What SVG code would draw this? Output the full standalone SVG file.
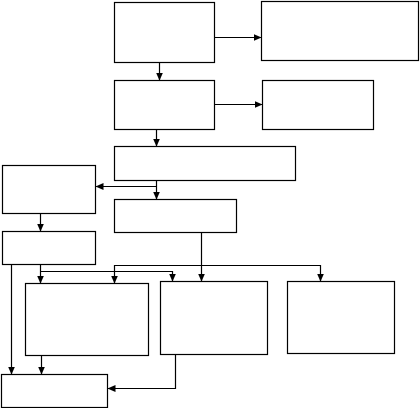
<svg xmlns="http://www.w3.org/2000/svg" width="420" height="408" viewBox="0 0 420 408">
<style>
.box{fill:#fff;stroke:#000;stroke-width:1.2}
.con{fill:none;stroke:#000;stroke-width:1.2;marker-end:url(#ah)}
</style>
<defs>
<marker id="ah" markerUnits="userSpaceOnUse" markerWidth="9" markerHeight="8" refX="8" refY="3.5" orient="auto">
<path d="M0,0 L8,3.5 L0,7 z" fill="#000"/>
</marker>
</defs>
<rect width="420" height="408" fill="#fff"/>
<g id="nA"><rect class="box" x="114.5" y="2.5" width="100" height="60"/></g>
<g id="nB"><rect class="box" x="261.5" y="1.5" width="157" height="59"/></g>
<g id="nC"><rect class="box" x="114.5" y="80.5" width="100" height="49"/></g>
<g id="nD"><rect class="box" x="262.5" y="80.5" width="111" height="49"/></g>
<g id="nE"><rect class="box" x="114.5" y="146.5" width="181" height="34"/></g>
<g id="nF"><rect class="box" x="2.5" y="165.5" width="93" height="48"/></g>
<g id="nG"><rect class="box" x="114.5" y="199.5" width="122" height="33"/></g>
<g id="nH"><rect class="box" x="2.5" y="231.5" width="93" height="33"/></g>
<g id="nI"><rect class="box" x="25.5" y="283.5" width="123" height="72"/></g>
<g id="nJ"><rect class="box" x="160.5" y="281.5" width="107" height="73"/></g>
<g id="nK"><rect class="box" x="287.5" y="281.5" width="107" height="72"/></g>
<g id="nL"><rect class="box" x="1.5" y="374.5" width="106" height="33"/></g>
<g id="connectors">
<path class="con" d="M214.5,37.5 H261.5"/>
<path class="con" d="M159.5,62.5 V80.5"/>
<path class="con" d="M214.5,104.5 H262.5"/>
<path class="con" d="M156.5,129.5 V146.5"/>
<path class="con" d="M156.5,180.5 V199.5"/>
<path class="con" d="M156.5,186.5 H95.5"/>
<path class="con" d="M40.5,213.5 V231.5"/>
<path class="con" d="M201.5,232.5 V281.5"/>
<path class="con" d="M201.5,265.5 H114.5 V283.5"/>
<path class="con" d="M201.5,265.5 H320.5 V281.5"/>
<path class="con" d="M40.5,264.5 V283.5"/>
<path class="con" d="M40.5,271.5 H172.5 V281.5"/>
<path class="con" d="M11.5,264.5 V374.5"/>
<path class="con" d="M41.5,355.5 V374.5"/>
<path class="con" d="M175.5,354.5 V388.5 H107.5"/>
</g>
</svg>
